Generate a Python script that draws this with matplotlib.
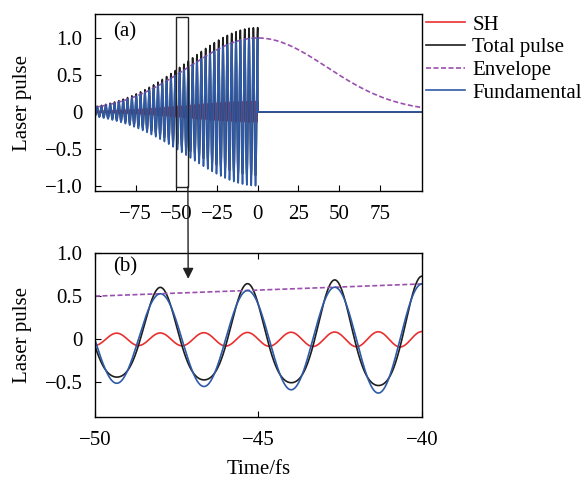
import numpy as np
import matplotlib
matplotlib.use("Agg")
import matplotlib.pyplot as plt
from matplotlib.patches import Rectangle, ConnectionPatch

plt.rcParams['font.family'] = ['Liberation Serif', 'DejaVu Serif']
plt.rcParams['font.size'] = 15
plt.rcParams['axes.linewidth'] = 1.0

# pulse parameters
period_fs = 2.667        # fundamental period (peaks at -48, -45.3, -42.7, -40)
env_half_fs = 50.0       # envelope falls to 0.5 at +-50 fs
sh_ratio = 0.14          # SH amplitude relative to envelope
pulse_end_fs = 0.0       # field switched off after t = 0

t_top = np.linspace(-100, 101, 20001)
t_zoom = np.linspace(-50, -40, 2001)

top_xticks = [-75, -50, -25, 0, 25, 50, 75]
top_xlabels = ['\u221275', '\u221250', '\u221225', '0', '25', '50', '75']
top_yticks = [-1.0, -0.5, 0, 0.5, 1.0]
top_ylabels = ['\u22121.0', '\u22120.5', '0', '0.5', '1.0']
zoom_xticks = [-50, -45, -40]
zoom_xlabels = ['\u221250', '\u221245', '\u221240']
zoom_yticks = [-0.5, 0, 0.5, 1.0]
zoom_ylabels = ['\u22120.5', '0', '0.5', '1.0']

labels = ['SH', 'Total pulse', 'Envelope', 'Fundamental']
colors = ['#e8302f', '#1e1e1e', '#9b4fae', '#2f5aa8']


def pulse(t):
    env = np.exp(-np.log(2) * (t / env_half_fs) ** 2)
    on = t <= pulse_end_fs
    w = 2 * np.pi / period_fs
    fund = np.where(on, env * np.cos(w * t), 0.0)
    sh = np.where(on, sh_ratio * env * np.cos(2 * w * t), 0.0)
    return sh, fund + sh, env, fund


fig = plt.figure(figsize=(5.85, 4.8), dpi=100)
ax1 = fig.add_axes([95 / 585, 1 - 191 / 480, 327 / 585, 176.7 / 480])
ax2 = fig.add_axes([95 / 585, 1 - 417 / 480, 327 / 585, 164 / 480])

for ax, t in [(ax1, t_top), (ax2, t_zoom)]:
    sh, total, env, fund = pulse(t)
    ax.plot(t, sh, color=colors[0], lw=1.2, label=labels[0])
    ax.plot(t, total, color=colors[1], lw=1.2, label=labels[1])
    ax.plot(t, env, color=colors[2], lw=1.2, ls=(0, (3, 1.5)), label=labels[2])
    ax.plot(t, fund, color=colors[3], lw=1.2, label=labels[3])
    ax.set_ylabel('Laser pulse')
    ax.yaxis.set_label_coords(-0.193, 0.5)

ax1.set_xlim(-100, 101)
ax1.set_ylim(-1.07, 1.32)
ax1.set_xticks(top_xticks)
ax1.set_xticklabels(top_xlabels)
ax1.set_yticks(top_yticks)
ax1.set_yticklabels(top_ylabels)
ax1.tick_params(direction='in', length=4)
ax1.tick_params(axis='x', pad=10)
ax1.tick_params(axis='y', pad=9)
ax1.text(0.055, 0.9, '(a)', transform=ax1.transAxes, ha='left', va='center')

ax2.set_xlim(-50, -40)
ax2.set_ylim(-0.9, 1.0)
ax2.set_xticks(zoom_xticks)
ax2.set_xticklabels(zoom_xlabels)
ax2.set_yticks(zoom_yticks)
ax2.set_yticklabels(zoom_ylabels)
ax2.tick_params(direction='in', length=4, top=True)
ax2.tick_params(axis='x', pad=10)
ax2.tick_params(axis='y', pad=9)
ax2.set_xlabel('Time/fs', labelpad=7)
ax2.text(0.055, 0.917, '(b)', transform=ax2.transAxes, ha='left', va='center')

# zoom box and arrow
box_x0, box_x1, box_y0, box_y1 = -50, -42.9, -1.01, 1.28
ax1.add_patch(Rectangle((box_x0, box_y0), box_x1 - box_x0, box_y1 - box_y0,
                        fill=False, ec='#222222', lw=1.0, zorder=5))
con = ConnectionPatch(xyA=(box_x1, box_y0), coordsA=ax1.transData,
                      xyB=(-47.15, 0.70), coordsB=ax2.transData,
                      arrowstyle='-|>', mutation_scale=16, lw=1.0,
                      color='#222222', shrinkA=0, shrinkB=0)
fig.add_artist(con)

ax1.legend(loc='upper left', bbox_to_anchor=(425.7 / 585, 1 - 15 / 480),
           bbox_transform=fig.transFigure, frameon=False, borderpad=0,
           borderaxespad=0, handlelength=1.875, handletextpad=0.37,
           labelspacing=0.15)

plt.savefig('out.png', dpi=100)
